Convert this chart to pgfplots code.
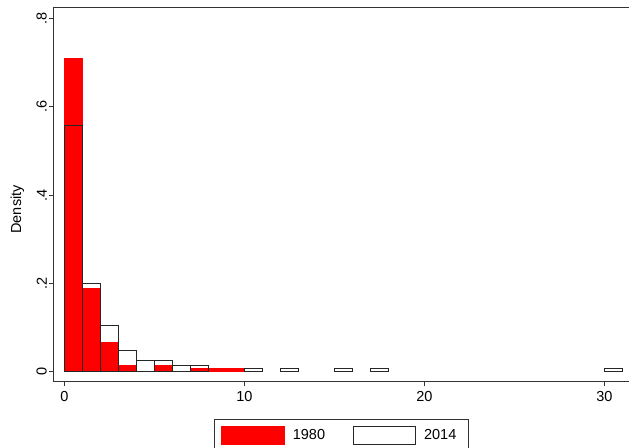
\documentclass[border=0pt]{standalone}
\usepackage{fontspec}
\setmainfont{Liberation Sans}
\usepackage{pgfplots}
\pgfplotsset{compat=1.18}
\newcommand\F{\fontsize{14.5}{17}\selectfont}
\begin{document}
\begin{tikzpicture}
\begin{axis}[
  scale only axis, width=577pt, height=373pt,
  at={(0pt,0pt)}, anchor=south west,
  xmin=-0.572, xmax=31.48, ymin=-0.021, ymax=0.8235,
  axis line style={draw=black!80, line width=1pt},
  xtick={0,10,20,30}, ytick={0,0.2,0.4,0.6,0.8},
  yticklabels={0,.2,.4,.6,.8},
  tick align=outside, xtick pos=bottom, ytick pos=left,
  major tick length=5pt, tick style={draw=black!80, line width=1pt},
  /pgf/number format/assume math mode=true,
  tick label style={font=\F},
  y tick label style={rotate=90, anchor=south, inner sep=2pt},
  x tick label style={anchor=north, inner sep=2pt, yshift=-3pt},
  ylabel={Density},
  every axis y label/.style={at={(axis description cs:-0.0635,0.46)}, rotate=90, anchor=center, font=\F},
  legend columns=2,
  legend style={at={(axis description cs:0.2765,-0.1019)}, anchor=north west,
    draw=black!80, line width=1pt, font=\F, inner xsep=7pt, inner ysep=6pt,
    nodes={inner sep=0pt},
    /tikz/every odd column/.append style={column sep=8pt},
    /tikz/every even column/.append style={column sep=28pt}},
]
\addplot[ybar, bar width=1, bar shift=0pt, fill=red, draw=red, line width=0.8pt,
  legend image code/.code={\draw[fill=red,draw=red] (0pt,-9pt) rectangle (63pt,9pt);}]
  coordinates {(0.5,0.7095) (1.5,0.189) (2.5,0.066) (3.5,0.015) (5.5,0.015)
               (7.5,0.0077) (8.5,0.0077) (9.5,0.0077)};
\addlegendentry{1980}
\addplot[ybar, bar width=1, bar shift=0pt, fill=none, draw=black!85, line width=1pt,
  legend image code/.code={\draw[fill=white,draw=black!85,line width=1pt] (0pt,-9pt) rectangle (62pt,9pt);}]
  coordinates {(0.5,0.557) (1.5,0.2) (2.5,0.104) (3.5,0.049) (4.5,0.0265)
               (5.5,0.0265) (6.5,0.0140) (7.5,0.0140) (10.5,0.0077) (12.5,0.0077)
               (15.5,0.0077) (17.5,0.0077) (30.5,0.0077)};
\addlegendentry{2014\hspace*{5pt}}
\end{axis}
\pgfresetboundingbox
\path (-54pt,-66pt) rectangle (575pt,381pt);
\end{tikzpicture}
\end{document}
